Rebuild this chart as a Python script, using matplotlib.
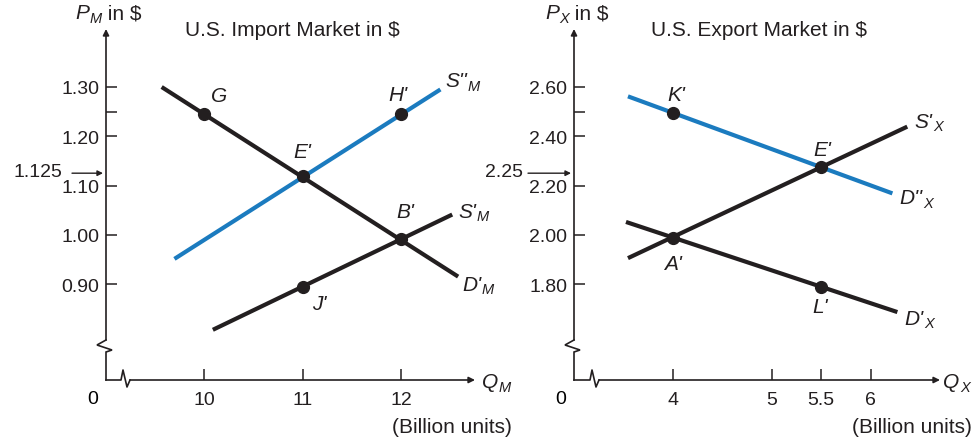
import numpy as np
import matplotlib
matplotlib.use("Agg")
from matplotlib import pyplot as plt

plt.rcParams['font.family'] = 'Liberation Sans'

BLACK = '#231f20'
BLUE = '#1b7bbf'
K = 0.72  # px -> points at dpi 100

# ---- import market (left) ----
imp_xticks = [10, 11, 12]
imp_xticklabels = ['10', '11', '12']
imp_yticks = [0.90, 1.00, 1.10, 1.20, 1.30]
imp_yticklabels = ['0.90', '1.00', '1.10', '1.20', '1.30']
imp_yminor = [1.25]

dm_q = [9.57, 12.58]      # D'M
dm_p = [1.300, 0.915]
sm2_q = [9.70, 12.40]     # S''M
sm2_p = [0.951, 1.295]
sm1_q = [10.09, 12.52]    # S'M
sm1_p = [0.807, 1.041]

imp_pts_name = ['G', "E'", "H'", "B'", "J'"]
imp_pts_q = [10, 11, 12, 12, 11]
imp_pts_p = [1.245, 1.120, 1.245, 0.992, 0.894]
imp_pts_off = [(15, 19), (0, 24), (-3, 20), (4, 27), (17, -17)]

# ---- export market (right) ----
exp_xticks = [4, 5, 5.5, 6]
exp_xticklabels = ['4', '5', '5.5', '6']
exp_yticks = [1.80, 2.00, 2.20, 2.40, 2.60]
exp_yticklabels = ['1.80', '2.00', '2.20', '2.40', '2.60']
exp_yminor = [2.50]

dx2_q = [3.55, 6.22]      # D''X
dx2_p = [2.562, 2.168]
sx_q = [3.55, 6.37]       # S'X
sx_p = [1.905, 2.439]
dx1_q = [3.53, 6.27]      # D'X
dx1_p = [2.052, 1.686]

exp_pts_name = ["K'", "E'", "A'", "L'"]
exp_pts_q = [4, 5.5, 4, 5.5]
exp_pts_p = [2.494, 2.275, 1.988, 1.788]
exp_pts_off = [(4, 19), (1, 18), (0, -26), (-1, -20)]

fig = plt.figure(figsize=(9.79, 4.39), dpi=100)
FW, FH = 979, 439
FS = 15     # main text size
SUB = 10.5  # subscript size


def make_axes(x0, x1, y0, y1):
    # pixel box -> figure fraction
    ax = fig.add_axes([x0 / FW, 1 - y1 / FH, (x1 - x0) / FW, (y1 - y0) / FH])
    for s in ax.spines.values():
        s.set_visible(False)
    ax.patch.set_alpha(0)
    return ax, x1 - x0, y1 - y0


def draw_frame(ax, W, H, xz0):
    lw = 1.2
    tr = ax.transAxes
    # vertical axis with break
    ax.plot([0, 0, -9 / W, 6 / W, 0, 0], [40 / H, 40 / H, 35 / H, 30 / H, 28 / H, 0],
            color=BLACK, lw=lw, transform=tr, clip_on=False, solid_joinstyle='miter')
    ax.annotate('', xy=(0, 1), xytext=(0, 40 / H), xycoords='axes fraction',
                arrowprops=dict(arrowstyle='-|>', color=BLACK, lw=lw, shrinkA=0, shrinkB=0,
                                mutation_scale=9))
    # horizontal axis with break
    ax.plot([0, xz0 / W, (xz0 + 2) / W, (xz0 + 6) / W, (xz0 + 9) / W],
            [0, 0, 10 / H, -7 / H, 0],
            color=BLACK, lw=lw, transform=tr, clip_on=False)
    ax.annotate('', xy=(1, 0), xytext=((xz0 + 9) / W, 0), xycoords='axes fraction',
                arrowprops=dict(arrowstyle='-|>', color=BLACK, lw=lw, shrinkA=0, shrinkB=0,
                                mutation_scale=9))
    ax.annotate('0', xy=(0, 0), xycoords='axes fraction', xytext=(-13 * K, -19 * K),
                textcoords='offset points', ha='center', va='center', fontsize=14)
    ax.tick_params(direction='in', length=8, width=1.1, color=BLACK, labelsize=14,
                   labelcolor=BLACK)
    ax.tick_params(axis='y', which='both', pad=5)
    ax.tick_params(axis='x', pad=8)
    ax.tick_params(which='minor', direction='in', length=8, width=1.1, color=BLACK)


def sub_text(ax, xy, xycoords, main, sub, off, rest=None, main_style='italic'):
    t = ax.annotate(main, xy=xy, xycoords=xycoords, xytext=(off[0] * K, -off[1] * K),
                    textcoords='offset points', ha='left', va='center', fontsize=FS,
                    style=main_style, color=BLACK)
    s = ax.annotate(sub, xy=(1, 0), xycoords=t, xytext=(0.5, 0.5),
                    textcoords='offset points', ha='left', va='baseline', fontsize=SUB,
                    style='italic', color=BLACK)
    if rest:
        ax.annotate(rest, xy=(1, 0), xycoords=(s, t), xytext=(0, 0),
                    textcoords='offset points', ha='left', va='bottom', fontsize=FS,
                    color=BLACK)


def curve(ax, q, p, color):
    ax.plot(q, p, color=color, lw=3, solid_capstyle='butt', clip_on=False)


def points(ax, names, qs, ps, offs):
    ax.plot(qs, ps, 'o', color=BLACK, ms=8.5, zorder=5, clip_on=False)
    for n, q, p, o in zip(names, qs, ps, offs):
        ax.annotate(n, xy=(q, p), xytext=(o[0] * K, o[1] * K), textcoords='offset points',
                    ha='center', va='center', fontsize=FS, style='italic', color=BLACK)


def price_arrow(ax, value, text, tail_px, text_px):
    ax.annotate('', xy=(0, value), xycoords=('axes fraction', 'data'),
                xytext=(-tail_px * K, 0), textcoords='offset points',
                arrowprops=dict(arrowstyle='-|>', color=BLACK, lw=1.0, shrinkA=0,
                                shrinkB=3 * K, mutation_scale=8))
    ax.annotate(text, xy=(0, value), xycoords=('axes fraction', 'data'),
                xytext=(-text_px * K, 2 * K), textcoords='offset points',
                ha='right', va='center', fontsize=14, color=BLACK)


# left panel
ax1, W1, H1 = make_axes(106, 475, 30, 381)
ax1.set_xlim(10 - 98 / 98.5, 10 + 271 / 98.5)
ax1.set_ylim(1.30 - 293 / 492.5, 1.30 + 58 / 492.5)
ax1.set_xticks(imp_xticks, imp_xticklabels)
ax1.set_yticks(imp_yticks, imp_yticklabels)
ax1.set_yticks(imp_yminor, minor=True)
draw_frame(ax1, W1, H1, 15)
curve(ax1, sm2_q, sm2_p, BLUE)
curve(ax1, dm_q, dm_p, BLACK)
curve(ax1, sm1_q, sm1_p, BLACK)
points(ax1, imp_pts_name, imp_pts_q, imp_pts_p, imp_pts_off)
sub_text(ax1, (sm2_q[-1], sm2_p[-1]), 'data', "S''", 'M', (5, -8.5))
sub_text(ax1, (sm1_q[-1], sm1_p[-1]), 'data', "S'", 'M', (6, -3.5))
sub_text(ax1, (dm_q[-1], dm_p[-1]), 'data', "D'", 'M', (4, 7.5))
price_arrow(ax1, 1.125, '1.125', 34, 44)

# right panel
ax2, W2, H2 = make_axes(574, 940, 30, 381)
ax2.set_xlim(4 - 98 / 98.5, 4 + 266 / 98.5)
ax2.set_ylim(1.80 - 96 / 246.25, 2.60 + 58 / 246.25)
ax2.set_xticks(exp_xticks, exp_xticklabels)
ax2.set_yticks(exp_yticks, exp_yticklabels)
ax2.set_yticks(exp_yminor, minor=True)
draw_frame(ax2, W2, H2, 16)
curve(ax2, dx2_q, dx2_p, BLUE)
curve(ax2, sx_q, sx_p, BLACK)
curve(ax2, dx1_q, dx1_p, BLACK)
points(ax2, exp_pts_name, exp_pts_q, exp_pts_p, exp_pts_off)
sub_text(ax2, (sx_q[-1], sx_p[-1]), 'data', "S'", 'X', (7, -5.5))
sub_text(ax2, (dx2_q[-1], dx2_p[-1]), 'data', "D''", 'X', (7, 4.5))
sub_text(ax2, (dx1_q[-1], dx1_p[-1]), 'data', "D'", 'X', (7, 6))
price_arrow(ax2, 2.25, '2.25', 46, 51)

# titles and axis names
fig.text(292 / FW, 1 - 30 / FH, 'U.S. Import Market in $', ha='center', va='center',
         fontsize=FS, color=BLACK)
fig.text(759 / FW, 1 - 30 / FH, 'U.S. Export Market in $', ha='center', va='center',
         fontsize=FS, color=BLACK)
sub_text(ax1, (75, FH - 14), 'figure pixels', 'P', 'M', (0, 0), rest=' in $')
sub_text(ax2, (545, FH - 14), 'figure pixels', 'P', 'X', (0, 0), rest=' in $')
sub_text(ax1, (482, FH - 383), 'figure pixels', 'Q', 'M', (0, 0))
sub_text(ax2, (943, FH - 383), 'figure pixels', 'Q', 'X', (0, 0))
fig.text(452 / FW, 1 - 428 / FH, '(Billion units)', ha='center', va='center', fontsize=FS,
         color=BLACK)
fig.text(912 / FW, 1 - 428 / FH, '(Billion units)', ha='center', va='center', fontsize=FS,
         color=BLACK)

fig.savefig('out.png', dpi=100)
